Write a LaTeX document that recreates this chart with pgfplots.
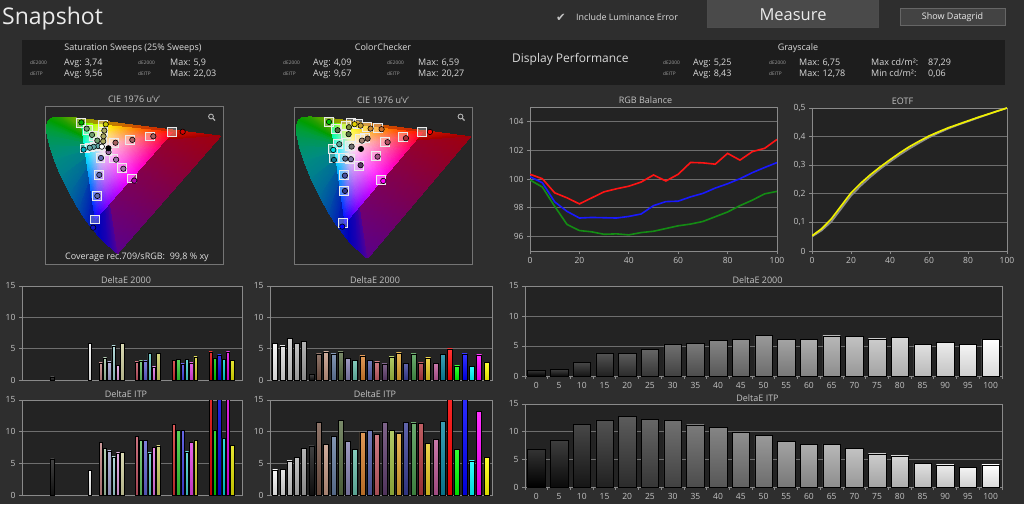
\documentclass[border=0pt]{standalone}
\usepackage{fontspec}
\setmainfont{Open Sans}
\newfontfamily\symfont{DejaVu Sans}
\usepackage{pgfplots}
\usepackage{pgfplotstable}
\pgfplotsset{compat=1.18}

% ---------- palette ----------
\definecolor{pagebg}{HTML}{2E2E2E}
\definecolor{panelbg}{HTML}{1D1D1D}
\definecolor{plotbg}{HTML}{232323}
\definecolor{ciebg}{HTML}{262626}
\definecolor{framec}{HTML}{8A8A8A}
\definecolor{gridc}{HTML}{6E6E6E}
\definecolor{labc}{HTML}{C4C4C4}
\definecolor{txtc}{HTML}{DADADA}
\definecolor{tinyc}{HTML}{A0A0A0}
\definecolor{btnbg}{HTML}{4A4A4A}
\definecolor{btn2bg}{HTML}{434343}
% saturation sweep bars
\definecolor{kk}{HTML}{151515}\definecolor{ww}{HTML}{F4F4F4}
\definecolor{sar}{HTML}{C08080}\definecolor{sag}{HTML}{A0C0A0}\definecolor{sab}{HTML}{A0A0D0}
\definecolor{sac}{HTML}{A0D0D0}\definecolor{sam}{HTML}{E0A0E0}\definecolor{say}{HTML}{D0D0A0}
\definecolor{sbr}{HTML}{C05060}\definecolor{sbg}{HTML}{60C060}\definecolor{sbb}{HTML}{6060D0}
\definecolor{sbc}{HTML}{60C8C8}\definecolor{sbm}{HTML}{E070E0}\definecolor{sby}{HTML}{C8C860}
\definecolor{scr}{HTML}{D03030}\definecolor{scg}{HTML}{30C830}\definecolor{scb}{HTML}{4040E0}
\definecolor{scc}{HTML}{40D0D0}\definecolor{scm}{HTML}{E040E0}\definecolor{scy}{HTML}{D8D030}
\definecolor{sdr}{HTML}{E00000}\definecolor{sdg}{HTML}{00D000}\definecolor{sdb}{HTML}{0000E0}
\definecolor{sdc}{HTML}{00D0D0}\definecolor{sdm}{HTML}{E000E0}\definecolor{sdy}{HTML}{E0E000}
% colorchecker patches
\definecolor{q1}{HTML}{F4F4F4}\definecolor{q2}{HTML}{DCDCDC}\definecolor{q3}{HTML}{C8C8C8}
\definecolor{q4}{HTML}{B4B4B4}\definecolor{q5}{HTML}{A0A0A0}\definecolor{q6}{HTML}{101010}
\definecolor{q7}{HTML}{735244}\definecolor{q8}{HTML}{C29682}\definecolor{q9}{HTML}{627A9D}
\definecolor{q10}{HTML}{576C43}\definecolor{q11}{HTML}{8580B1}\definecolor{q12}{HTML}{67BDAA}
\definecolor{q13}{HTML}{D67E2C}\definecolor{q14}{HTML}{505BA6}\definecolor{q15}{HTML}{C15A63}
\definecolor{q16}{HTML}{5E3C6C}\definecolor{q17}{HTML}{9DBC40}\definecolor{q18}{HTML}{E0A32E}
\definecolor{q19}{HTML}{383D96}\definecolor{q20}{HTML}{469449}\definecolor{q21}{HTML}{AF363C}
\definecolor{q22}{HTML}{E7C71F}\definecolor{q23}{HTML}{BB5695}\definecolor{q24}{HTML}{0885A1}
\definecolor{q25}{HTML}{FF0000}\definecolor{q26}{HTML}{00FF00}\definecolor{q27}{HTML}{0000FF}
\definecolor{q28}{HTML}{00FFFF}\definecolor{q29}{HTML}{FF00FF}\definecolor{q30}{HTML}{FFFF00}

\newcommand{\fs}[1]{\fontsize{#1}{#1}\selectfont}

\pgfplotsset{
  dash/.style={
    scale only axis, anchor=north west,
    axis background/.style={fill=plotbg},
    axis line style={draw=framec, line width=0.9pt},
    tick align=outside, tick pos=left,
    major tick length=3pt, minor tick length=3pt,
    every tick/.style={draw=framec, line width=0.8pt},
    ticklabel style={text=labc, font=\fs{8.5}},
    every axis title/.style={at={(0.5,1)}, anchor=base, yshift=3pt, text=labc, font=\fs{9}, inner sep=0pt},
    ymajorgrids, grid style={draw=gridc, line width=0.8pt},
    /pgf/number format/assume math mode=true,
  },
  cie/.style={dash, xtick=\empty, ytick=\empty, ymajorgrids=false,
    axis background/.style={fill=ciebg},
    axis line style={draw=framec!85!black, line width=0.9pt}},
  cb/.style={ybar, bar shift=0pt, draw=black, line width=0.5pt,
    top color=#1!80!white, bottom color=#1!85!black},
  gb/.style={cb=white!#1!black},
  graycats/.style={
    xmin=-0.5, xmax=20.5, ymin=0, ymax=15, ytick={0,5,10,15}, bar width=17.5pt,
    xtick={-0.5,0.5,...,20.5}, xticklabels={},
    extra x ticks={0,1,...,20},
    extra x tick labels={0,5,10,15,20,25,30,35,40,45,50,55,60,65,70,75,80,85,90,95,100},
    extra x tick style={major tick length=0pt, xticklabel style={yshift=-2.5pt}}},
  sq/.style={only marks, mark=square*, mark size=4.4pt,
    mark options={draw=white!92!black, line width=0.8pt, fill=white, fill opacity=0.28}},
  circ/.style={only marks, mark=*, mark size=2.7pt,
    mark options={draw=black, line width=0.6pt, fill={#1}}},
}

% ---------- data ----------
\pgfplotstableread{
x   r      g      b
0   100.33 99.93  100.16
5   100.02 99.44  99.74
10  99.04  98.10  98.41
15  98.69  96.84  97.75
20  98.27  96.42  97.29
25  98.69  96.33  97.33
30  99.11  96.16  97.31
35  99.32  96.19  97.29
40  99.50  96.12  97.40
45  99.79  96.28  97.57
50  100.28 96.37  98.15
55  99.86  96.56  98.43
60  100.33 96.75  98.46
65  101.15 96.87  98.76
70  101.12 97.05  99.00
75  101.03 97.38  99.37
80  101.78 97.71  99.67
85  101.31 98.15  100.02
90  101.90 98.53  100.44
95  102.13 98.97  100.80
100 102.75 99.14  101.14
}\rgbbal

\pgfplotstableread{
x   meas  ref
0   0.053 0.050
5   0.078 0.072
10  0.113 0.103
15  0.158 0.148
20  0.203 0.193
25  0.237 0.228
30  0.267 0.259
35  0.294 0.287
40  0.319 0.312
45  0.343 0.336
50  0.365 0.358
55  0.384 0.378
60  0.402 0.397
65  0.417 0.413
70  0.431 0.428
75  0.443 0.441
80  0.455 0.453
85  0.467 0.465
90  0.478 0.477
95  0.489 0.489
100 0.500 0.500
}\eotf

% spectral locus fan (u', v', vertex colour), one triangle per three rows
\pgfplotstableread{
x y c
0.1978 0.4683 rgb=0.35,0,0.55
0.2568 0.0166 rgb=0.35,0,0.55
0.2522 0.0169 rgb=0.3,0,0.6
0.1978 0.4683 rgb=0.3,0,0.6
0.2522 0.0169 rgb=0.3,0,0.6
0.2347 0.0350 rgb=0.2,0,0.65
0.1978 0.4683 rgb=0.2,0,0.65
0.2347 0.0350 rgb=0.2,0,0.65
0.2161 0.0549 rgb=0.1,0,0.7
0.1978 0.4683 rgb=0.1,0,0.7
0.2161 0.0549 rgb=0.1,0,0.7
0.1877 0.0871 rgb=0,0,0.72
0.1978 0.4683 rgb=0,0,0.72
0.1877 0.0871 rgb=0,0,0.72
0.1441 0.1510 rgb=0,0.15,0.7
0.1978 0.4683 rgb=0,0.15,0.7
0.1441 0.1510 rgb=0,0.15,0.7
0.1147 0.2044 rgb=0,0.3,0.65
0.1978 0.4683 rgb=0,0.3,0.65
0.1147 0.2044 rgb=0,0.3,0.65
0.0828 0.2708 rgb=0,0.42,0.6
0.1978 0.4683 rgb=0,0.42,0.6
0.0828 0.2708 rgb=0,0.42,0.6
0.0521 0.3427 rgb=0,0.5,0.55
0.1978 0.4683 rgb=0,0.5,0.55
0.0521 0.3427 rgb=0,0.5,0.55
0.0282 0.4117 rgb=0,0.55,0.5
0.1978 0.4683 rgb=0,0.55,0.5
0.0282 0.4117 rgb=0,0.55,0.5
0.0119 0.4698 rgb=0,0.58,0.4
0.1978 0.4683 rgb=0,0.58,0.4
0.0119 0.4698 rgb=0,0.58,0.4
0.0035 0.5131 rgb=0,0.6,0.3
0.1978 0.4683 rgb=0,0.6,0.3
0.0035 0.5131 rgb=0,0.6,0.3
0.0014 0.5432 rgb=0,0.62,0.2
0.1978 0.4683 rgb=0,0.62,0.2
0.0014 0.5432 rgb=0,0.62,0.2
0.0046 0.5638 rgb=0,0.62,0.1
0.1978 0.4683 rgb=0,0.62,0.1
0.0046 0.5638 rgb=0,0.62,0.1
0.0123 0.5770 rgb=0,0.62,0
0.1978 0.4683 rgb=0,0.62,0
0.0123 0.5770 rgb=0,0.62,0
0.0231 0.5837 rgb=0.05,0.62,0
0.1978 0.4683 rgb=0.05,0.62,0
0.0231 0.5837 rgb=0.05,0.62,0
0.0360 0.5861 rgb=0.1,0.62,0
0.1978 0.4683 rgb=0.1,0.62,0
0.0360 0.5861 rgb=0.1,0.62,0
0.0501 0.5868 rgb=0.15,0.62,0
0.1978 0.4683 rgb=0.15,0.62,0
0.0501 0.5868 rgb=0.15,0.62,0
0.0792 0.5856 rgb=0.3,0.65,0
0.1978 0.4683 rgb=0.3,0.65,0
0.0792 0.5856 rgb=0.3,0.65,0
0.1127 0.5821 rgb=0.45,0.65,0
0.1978 0.4683 rgb=0.45,0.65,0
0.1127 0.5821 rgb=0.45,0.65,0
0.1531 0.5766 rgb=0.6,0.62,0
0.1978 0.4683 rgb=0.6,0.62,0
0.1531 0.5766 rgb=0.6,0.62,0
0.2026 0.5694 rgb=0.72,0.55,0
0.1978 0.4683 rgb=0.72,0.55,0
0.2026 0.5694 rgb=0.72,0.55,0
0.2623 0.5604 rgb=0.78,0.45,0
0.1978 0.4683 rgb=0.78,0.45,0
0.2623 0.5604 rgb=0.78,0.45,0
0.3315 0.5501 rgb=0.8,0.3,0
0.1978 0.4683 rgb=0.8,0.3,0
0.3315 0.5501 rgb=0.8,0.3,0
0.4035 0.5393 rgb=0.8,0.18,0
0.1978 0.4683 rgb=0.8,0.18,0
0.4035 0.5393 rgb=0.8,0.18,0
0.5203 0.5219 rgb=0.75,0.05,0
0.1978 0.4683 rgb=0.75,0.05,0
0.5203 0.5219 rgb=0.75,0.05,0
0.5830 0.5125 rgb=0.68,0,0
0.1978 0.4683 rgb=0.68,0,0
0.5830 0.5125 rgb=0.68,0,0
0.6234 0.5065 rgb=0.62,0,0
0.1978 0.4683 rgb=0.55,0,0.3
0.6234 0.5065 rgb=0.62,0,0.05
0.2568 0.0166 rgb=0.35,0,0.55
}\cieouter

% rec.709 gamut fan around D65
\pgfplotstableread{
x y c
0.1978 0.4683 rgb=1,0.93,0.95
0.4508 0.5229 rgb=1,0,0
0.3201 0.5388 rgb=1,0.5,0
0.1978 0.4683 rgb=1,0.93,0.95
0.3201 0.5388 rgb=1,0.5,0
0.2039 0.5529 rgb=1,1,0
0.1978 0.4683 rgb=1,0.93,0.95
0.2039 0.5529 rgb=1,1,0
0.1459 0.5600 rgb=0.5,1,0
0.1978 0.4683 rgb=1,0.93,0.95
0.1459 0.5600 rgb=0.5,1,0
0.1250 0.5625 rgb=0,1,0
0.1978 0.4683 rgb=1,0.93,0.95
0.1250 0.5625 rgb=0,1,0
0.1286 0.5336 rgb=0,1,0.5
0.1978 0.4683 rgb=1,0.93,0.95
0.1286 0.5336 rgb=0,1,0.5
0.1383 0.4555 rgb=0,1,1
0.1978 0.4683 rgb=1,0.93,0.95
0.1383 0.4555 rgb=0,1,1
0.1566 0.3089 rgb=0,0.5,1
0.1978 0.4683 rgb=1,0.93,0.95
0.1566 0.3089 rgb=0,0.5,1
0.1755 0.1579 rgb=0,0,1
0.1978 0.4683 rgb=1,0.93,0.95
0.1755 0.1579 rgb=0,0,1
0.2195 0.2163 rgb=0.5,0,1
0.1978 0.4683 rgb=1,0.93,0.95
0.2195 0.2163 rgb=0.5,0,1
0.3051 0.3297 rgb=1,0,1
0.1978 0.4683 rgb=1,0.93,0.95
0.3051 0.3297 rgb=1,0,1
0.3973 0.4521 rgb=1,0,0.5
0.1978 0.4683 rgb=1,0.93,0.95
0.3973 0.4521 rgb=1,0,0.5
0.4508 0.5229 rgb=1,0,0
}\cieinner

\begin{document}
\begin{tikzpicture}[x=1pt,y=1pt]
\useasboundingbox (0,0) rectangle (1024,504);
\fill[pagebg] (0,0) rectangle (1024,504);

% ---------- header ----------
\node[anchor=base west, inner sep=0pt, text=white!92!black, font=\fs{23}] at (2,479) {Snapshot};
\node[anchor=base, inner sep=0pt, text=labc, font=\symfont\fs{11.5}] at (561,482.5) {✔};
\node[anchor=base west, inner sep=0pt, text=txtc, font=\fs{8.9}] at (576,483.5) {Include Luminance Error};
\filldraw[fill=btnbg, draw=black!70, line width=1pt] (707.5,504) rectangle (878,476.5);
\node[anchor=base, inner sep=0pt, text=white!92!black, font=\fs{16.5}] at (793,483.5) {Measure};
\filldraw[fill=btn2bg, draw=white!40!black, line width=0.8pt] (900,496) rectangle (1005,479);
\node[anchor=base, inner sep=0pt, text=white!92!black, font=\fs{9}] at (952.5,484.5) {Show Datagrid};

% ---------- summary panel ----------
\fill[panelbg] (22,464) rectangle (1005,419);
\begin{scope}[every node/.style={anchor=base west, inner sep=0pt, text=txtc, font=\fs{9}}]
\node[anchor=base] at (133,453) {Saturation Sweeps (25\% Sweeps)};
\node at (64,438.5) {Avg: 3,74};  \node at (170,438.5) {Max: 5,9};
\node at (64,427.5) {Avg: 9,56};  \node at (170,427.5) {Max: 22,03};
\node[anchor=base] at (383,453) {ColorChecker};
\node at (313,438.5) {Avg: 4,09}; \node at (418,438.5) {Max: 6,59};
\node at (313,427.5) {Avg: 9,67}; \node at (418,427.5) {Max: 20,27};
\node[font=\fs{12}] at (512,441.5) {Display Performance};
\node[anchor=base] at (798,453) {Grayscale};
\node at (693,438.5) {Avg: 5,25}; \node at (799,438.5) {Max: 6,75};
\node at (693,427.5) {Avg: 8,43}; \node at (799,427.5) {Max: 12,78};
\node at (871,438.5) {Max cd/m²:}; \node at (928,438.5) {87,29};
\node at (871,427.5) {Min cd/m²:}; \node at (928,427.5) {0,06};
\end{scope}
\begin{scope}[every node/.style={anchor=base west, inner sep=0pt, text=tinyc, font=\fs{4.8}}]
\foreach \x in {30,138,283,387,663,769} {\node at (\x,439.5) {dE2000};}
\foreach \x in {30,138,283,387,663,769} {\node at (\x,428.5) {dEITP};}
\end{scope}

% ---------- CIE 1976 u'v' : saturation sweeps ----------
\begin{axis}[cie, at={(45pt,398pt)}, width=178pt, height=158pt,
  xmin=-0.004, xmax=0.632, ymin=-0.0295, ymax=0.633, title={CIE 1976 u'v'}]
\addplot[patch, patch type=triangle, shader=interp, mesh/color input=explicit] table[x=x, y=y, meta=c] {\cieouter};
\addplot[patch, patch type=triangle, shader=interp, mesh/color input=explicit] table[x=x, y=y, meta=c] {\cieinner};
\addplot[sq] coordinates {
 (0.2408,0.4776) (0.2990,0.4901) (0.3698,0.5054) (0.4508,0.5229)
 (0.1854,0.4843) (0.1687,0.5060) (0.1483,0.5324) (0.1250,0.5625)
 (0.1940,0.4155) (0.1889,0.3441) (0.1826,0.2572) (0.1755,0.1579)
 (0.1877,0.4661) (0.1740,0.4632) (0.1573,0.4596) (0.1383,0.4555)
 (0.2160,0.4447) (0.2407,0.4129) (0.2708,0.3741) (0.3051,0.3297)
 (0.1988,0.4827) (0.2002,0.5021) (0.2019,0.5258) (0.2039,0.5529)
 (0.1978,0.4683)};
\addplot[circ={rgb,255:red,168;green,96;blue,96}] coordinates {(0.2480,0.4790) (0.3080,0.4910) (0.3830,0.5060)};
\addplot[circ={rgb,255:red,208;green,0;blue,0}] coordinates {(0.4880,0.5250)};
\addplot[circ={rgb,255:red,112;green,160;blue,112}] coordinates {(0.1830,0.4880) (0.1640,0.5120) (0.1450,0.5380)};
\addplot[circ={rgb,255:red,0;green,176;blue,0}] coordinates {(0.1260,0.5640)};
\addplot[circ={rgb,255:red,96;green,104;blue,176}] coordinates {(0.1960,0.4150) (0.1900,0.3440) (0.1830,0.2560)};
\addplot[circ={rgb,255:red,16;green,16;blue,192}] coordinates {(0.1680,0.1230)};
\addplot[circ={rgb,255:red,96;green,168;blue,168}] coordinates {(0.1860,0.4650) (0.1700,0.4620) (0.1560,0.4580)};
\addplot[circ={rgb,255:red,0;green,176;blue,192}] coordinates {(0.1340,0.4500)};
\addplot[circ={rgb,255:red,160;green,112;blue,168}] coordinates {(0.2230,0.4400) (0.2500,0.4080) (0.2760,0.3700)};
\addplot[circ={rgb,255:red,176;green,0;blue,176}] coordinates {(0.3150,0.3200)};
\addplot[circ={rgb,255:red,168;green,168;blue,96}] coordinates {(0.2040,0.4850) (0.2050,0.5060) (0.2080,0.5300)};
\addplot[circ={rgb,255:red,200;green,200;blue,0}] coordinates {(0.2130,0.5560)};
\addplot[circ=white] coordinates {(0.1990,0.4625)};
\addplot[circ=black] coordinates {(0.2226,0.4557)};
\end{axis}
\node[anchor=base, inner sep=0pt, text=white!88!black, font=\fs{9}] at (137,245) {Coverage rec.709/sRGB:\ \ 99,8 \% xy};

% ---------- CIE 1976 u'v' : ColorChecker ----------
\begin{axis}[cie, at={(294pt,397pt)}, width=178pt, height=157pt,
  xmin=-0.007, xmax=0.629, ymin=-0.0077, ymax=0.627, title={CIE 1976 u'v'}]
\addplot[patch, patch type=triangle, shader=interp, mesh/color input=explicit] table[x=x, y=y, meta=c] {\cieouter};
\addplot[patch, patch type=triangle, shader=interp, mesh/color input=explicit] table[x=x, y=y, meta=c] {\cieinner};
\addplot[sq] coordinates {
 (0.1179,0.5668) (0.1429,0.5372) (0.1774,0.5518) (0.1976,0.5615) (0.2226,0.5575)
 (0.2524,0.5478) (0.2940,0.5413) (0.1786,0.5182) (0.2286,0.4968) (0.2464,0.5008)
 (0.3179,0.4859) (0.3810,0.5049) (0.4488,0.5263) (0.1500,0.4790) (0.1310,0.4563)
 (0.1929,0.4697) (0.1369,0.4199) (0.1714,0.4224) (0.1929,0.4159) (0.2857,0.4292)
 (0.2262,0.3888) (0.1714,0.3524) (0.3024,0.3322) (0.1714,0.2889) (0.1690,0.1570)};
\addplot[circ={rgb,255:red,0;green,192;blue,0}]    coordinates {(0.1179,0.5668)};
\addplot[circ={rgb,255:red,78;green,110;blue,62}]  coordinates {(0.1488,0.5332)};
\addplot[circ={rgb,255:red,122;green,138;blue,58}] coordinates {(0.1893,0.5453)};
\addplot[circ={rgb,255:red,224;green,208;blue,0}]  coordinates {(0.2095,0.5575)};
\addplot[circ={rgb,255:red,200;green,160;blue,48}] coordinates {(0.2310,0.5518)};
\addplot[circ={rgb,255:red,208;green,138;blue,48}] coordinates {(0.2667,0.5397)};
\addplot[circ={rgb,255:red,200;green,112;blue,48}] coordinates {(0.3060,0.5372)};
\addplot[circ={rgb,255:red,90;green,122;blue,64}]  coordinates {(0.1881,0.5170)};
\addplot[circ={rgb,255:red,160;green,128;blue,112}] coordinates {(0.2357,0.4911)};
\addplot[circ={rgb,255:red,122;green,88;blue,72}]  coordinates {(0.2560,0.4992)};
\addplot[circ={rgb,255:red,176;green,80;blue,96}]  coordinates {(0.3275,0.4847)};
\addplot[circ={rgb,255:red,168;green,48;blue,56}]  coordinates {(0.3929,0.5008)};
\addplot[circ={rgb,255:red,255;green,0;blue,0}]    coordinates {(0.4786,0.5263)};
\addplot[circ={rgb,255:red,96;green,168;blue,152}] coordinates {(0.1548,0.4766)};
\addplot[circ={rgb,255:red,0;green,224;blue,224}]  coordinates {(0.1333,0.4535)};
\addplot[circ={rgb,255:red,112;green,112;blue,112}] coordinates {(0.1988,0.4669)};
\addplot[circ=black]                               coordinates {(0.2321,0.4576)};
\addplot[circ={rgb,255:red,10;green,120;blue,144}] coordinates {(0.1357,0.4131)};
\addplot[circ={rgb,255:red,90;green,110;blue,144}] coordinates {(0.1762,0.4183)};
\addplot[circ={rgb,255:red,122;green,120;blue,168}] coordinates {(0.1964,0.4159)};
\addplot[circ={rgb,255:red,168;green,80;blue,136}] coordinates {(0.2917,0.4264)};
\addplot[circ={rgb,255:red,90;green,58;blue,104}]  coordinates {(0.2310,0.3916)};
\addplot[circ={rgb,255:red,72;green,80;blue,160}]  coordinates {(0.1750,0.3496)};
\addplot[circ={rgb,255:red,255;green,0;blue,255}]  coordinates {(0.3119,0.3281)};
\addplot[circ={rgb,255:red,48;green,56;blue,144}]  coordinates {(0.1750,0.2877)};
\addplot[circ={rgb,255:red,0;green,0;blue,255}]    coordinates {(0.1655,0.1433)};
\end{axis}

% magnifier glyphs in the corners of the two diagrams
\foreach \mx in {211,460.5} {
  \draw[white!70!black, line width=0.9pt] (\mx,387.5) circle (2.4);
  \draw[white!70!black, line width=1.1pt] (\mx+1.8,385.7) -- (\mx+4,383.5);
}

% ---------- RGB Balance ----------
\begin{axis}[dash, at={(530pt,397pt)}, width=247pt, height=144pt,
  xmin=0, xmax=100, ymin=95, ymax=105, xtick={0,20,...,100}, ytick={96,98,...,104},
  title={RGB Balance}, title style={xshift=-8pt}]
\addplot[draw={rgb,255:red,255;green,20;blue,20}, line width=1.6pt] table[x=x, y=r] {\rgbbal};
\addplot[draw={rgb,255:red,20;green,140;blue,20}, line width=1.6pt] table[x=x, y=g] {\rgbbal};
\addplot[draw={rgb,255:red,25;green,25;blue,255}, line width=1.6pt] table[x=x, y=b] {\rgbbal};
\end{axis}

% ---------- EOTF ----------
\begin{axis}[dash, at={(812pt,396pt)}, width=195pt, height=143pt,
  xmin=0, xmax=100, ymin=0, ymax=0.5, xtick={0,20,...,100}, ytick={0,0.1,0.2,0.3,0.4,0.5},
  yticklabel style={/pgf/number format/.cd, fixed, precision=1, use comma},
  title={EOTF}, title style={xshift=-7pt}]
\addplot[draw=white!55!black, line width=1.6pt] table[x=x, y=ref] {\eotf};
\addplot[draw={rgb,255:red,240;green,240;blue,0}, line width=1.7pt] table[x=x, y=meas] {\eotf};
\end{axis}

% ---------- DeltaE 2000 : saturation sweeps ----------
\begin{axis}[dash, at={(22pt,218pt)}, width=220pt, height=94pt,
  xmin=22, xmax=242, ymin=0, ymax=15, ytick={0,5,10,15}, xtick=\empty, bar width=3.3pt,
  title={DeltaE 2000}, title style={xshift=-6pt}]
\addplot[cb=kk]  coordinates {(52.3,0.50)};
\addplot[cb=ww]  coordinates {(90.0,5.80)};
\addplot[cb=sar] coordinates {(100.7,2.75)}; \addplot[cb=sag] coordinates {(105.0,3.54)};
\addplot[cb=sab] coordinates {(109.3,2.90)}; \addplot[cb=sac] coordinates {(113.6,5.44)};
\addplot[cb=sam] coordinates {(117.9,2.38)}; \addplot[cb=say] coordinates {(122.2,5.90)};
\addplot[cb=sbr] coordinates {(136.7,2.90)}; \addplot[cb=sbg] coordinates {(141.0,3.06)};
\addplot[cb=sbb] coordinates {(145.3,3.06)}; \addplot[cb=sbc] coordinates {(149.6,4.23)};
\addplot[cb=sbm] coordinates {(153.9,2.11)}; \addplot[cb=sby] coordinates {(158.2,4.23)};
\addplot[cb=scr] coordinates {(174.0,3.17)}; \addplot[cb=scg] coordinates {(178.3,3.28)};
\addplot[cb=scb] coordinates {(182.6,2.59)}; \addplot[cb=scc] coordinates {(186.9,3.28)};
\addplot[cb=scm] coordinates {(191.2,2.75)}; \addplot[cb=scy] coordinates {(195.5,3.70)};
\addplot[cb=sdr] coordinates {(210.7,4.49)}; \addplot[cb=sdg] coordinates {(215.0,3.49)};
\addplot[cb=sdb] coordinates {(219.3,4.01)}; \addplot[cb=sdc] coordinates {(223.6,3.28)};
\addplot[cb=sdm] coordinates {(227.9,4.49)}; \addplot[cb=sdy] coordinates {(232.2,3.17)};
\end{axis}

% ---------- DeltaE ITP : saturation sweeps ----------
\begin{axis}[dash, at={(22pt,104pt)}, width=220pt, height=95pt,
  xmin=22, xmax=242, ymin=0, ymax=15, ytick={0,5,10,15}, xtick=\empty, bar width=3.3pt,
  title={DeltaE ITP}, title style={xshift=-6pt}]
\addplot[cb=kk]  coordinates {(52.3,5.70)};
\addplot[cb=ww]  coordinates {(90.0,3.87)};
\addplot[cb=sar] coordinates {(100.7,8.36)}; \addplot[cb=sag] coordinates {(105.0,7.32)};
\addplot[cb=sab] coordinates {(109.3,6.95)}; \addplot[cb=sac] coordinates {(113.6,6.01)};
\addplot[cb=sam] coordinates {(117.9,6.64)}; \addplot[cb=say] coordinates {(122.2,6.69)};
\addplot[cb=sbr] coordinates {(136.7,9.30)}; \addplot[cb=sbg] coordinates {(141.0,8.68)};
\addplot[cb=sbb] coordinates {(145.3,8.68)}; \addplot[cb=sbc] coordinates {(149.6,6.64)};
\addplot[cb=sbm] coordinates {(153.9,7.47)}; \addplot[cb=sby] coordinates {(158.2,7.74)};
\addplot[cb=scr] coordinates {(174.0,11.19)}; \addplot[cb=scg] coordinates {(178.3,10.25)};
\addplot[cb=scb] coordinates {(182.6,10.25)}; \addplot[cb=scc] coordinates {(186.9,6.80)};
\addplot[cb=scm] coordinates {(191.2,8.31)}; \addplot[cb=scy] coordinates {(195.5,8.57)};
\addplot[cb=sdr] coordinates {(210.7,18.50)}; \addplot[cb=sdg] coordinates {(215.0,10.25)};
\addplot[cb=sdb] coordinates {(219.3,20.00)}; \addplot[cb=sdc] coordinates {(223.6,8.99)};
\addplot[cb=sdm] coordinates {(227.9,22.03)}; \addplot[cb=sdy] coordinates {(232.2,7.89)};
\end{axis}

% ---------- DeltaE 2000 : ColorChecker ----------
\begin{axis}[dash, at={(270pt,218pt)}, width=222pt, height=94pt,
  xmin=0.31, xmax=30.77, ymin=0, ymax=15, ytick={0,5,10,15}, xtick=\empty, bar width=5pt,
  title={DeltaE 2000}, title style={xshift=-6pt}]
\addplot[cb=q1] coordinates {(1,5.81)};  \addplot[cb=q2] coordinates {(2,5.44)};
\addplot[cb=q3] coordinates {(3,6.59)};  \addplot[cb=q4] coordinates {(4,5.81)};
\addplot[cb=q5] coordinates {(5,6.13)};  \addplot[cb=q6] coordinates {(6,0.85)};
\addplot[cb=q7] coordinates {(7,4.17)};  \addplot[cb=q8] coordinates {(8,4.49)};
\addplot[cb=q9] coordinates {(9,4.17)};  \addplot[cb=q10] coordinates {(10,4.49)};
\addplot[cb=q11] coordinates {(11,3.49)}; \addplot[cb=q12] coordinates {(12,3.17)};
\addplot[cb=q13] coordinates {(13,3.86)}; \addplot[cb=q14] coordinates {(14,3.17)};
\addplot[cb=q15] coordinates {(15,2.90)}; \addplot[cb=q16] coordinates {(16,2.59)};
\addplot[cb=q17] coordinates {(17,3.70)}; \addplot[cb=q18] coordinates {(18,4.33)};
\addplot[cb=q19] coordinates {(19,2.64)}; \addplot[cb=q20] coordinates {(20,4.17)};
\addplot[cb=q21] coordinates {(21,2.75)}; \addplot[cb=q22] coordinates {(22,3.54)};
\addplot[cb=q23] coordinates {(23,2.64)}; \addplot[cb=q24] coordinates {(24,4.12)};
\addplot[cb=q25] coordinates {(25,4.97)}; \addplot[cb=q26] coordinates {(26,2.27)};
\addplot[cb=q27] coordinates {(27,4.17)}; \addplot[cb=q28] coordinates {(28,2.17)};
\addplot[cb=q29] coordinates {(29,4.01)}; \addplot[cb=q30] coordinates {(30,2.80)};
\end{axis}

% ---------- DeltaE ITP : ColorChecker ----------
\begin{axis}[dash, at={(270pt,104pt)}, width=222pt, height=95pt,
  xmin=0.31, xmax=30.77, ymin=0, ymax=15, ytick={0,5,10,15}, xtick=\empty, bar width=5pt,
  title={DeltaE ITP}, title style={xshift=-6pt}]
\addplot[cb=q1] coordinates {(1,3.95)};  \addplot[cb=q2] coordinates {(2,4.00)};
\addplot[cb=q3] coordinates {(3,5.37)};  \addplot[cb=q4] coordinates {(4,6.00)};
\addplot[cb=q5] coordinates {(5,7.42)};  \addplot[cb=q6] coordinates {(6,7.74)};
\addplot[cb=q7] coordinates {(7,11.47)}; \addplot[cb=q8] coordinates {(8,7.95)};
\addplot[cb=q9] coordinates {(9,9.26)};  \addplot[cb=q10] coordinates {(10,11.79)};
\addplot[cb=q11] coordinates {(11,8.42)}; \addplot[cb=q12] coordinates {(12,7.21)};
\addplot[cb=q13] coordinates {(13,9.84)}; \addplot[cb=q14] coordinates {(14,10.26)};
\addplot[cb=q15] coordinates {(15,9.53)}; \addplot[cb=q16] coordinates {(16,11.47)};
\addplot[cb=q17] coordinates {(17,10.26)}; \addplot[cb=q18] coordinates {(18,9.68)};
\addplot[cb=q19] coordinates {(19,11.47)}; \addplot[cb=q20] coordinates {(20,11.37)};
\addplot[cb=q21] coordinates {(21,11.26)}; \addplot[cb=q22] coordinates {(22,8.21)};
\addplot[cb=q23] coordinates {(23,8.74)}; \addplot[cb=q24] coordinates {(24,11.63)};
\addplot[cb=q25] coordinates {(25,20.27)}; \addplot[cb=q26] coordinates {(26,7.26)};
\addplot[cb=q27] coordinates {(27,17.50)}; \addplot[cb=q28] coordinates {(28,5.37)};
\addplot[cb=q29] coordinates {(29,13.26)}; \addplot[cb=q30] coordinates {(30,6.00)};
\end{axis}

% ---------- DeltaE 2000 : grayscale ----------
\begin{axis}[dash, graycats, at={(525pt,218pt)}, width=477pt, height=90pt,
  title={DeltaE 2000}, title style={xshift=-6pt}]
\addplot[gb=0]   coordinates {(0,0.89)};  \addplot[gb=5]   coordinates {(1,1.06)};
\addplot[gb=10]  coordinates {(2,2.28)};  \addplot[gb=15]  coordinates {(3,3.72)};
\addplot[gb=20]  coordinates {(4,3.83)};  \addplot[gb=25]  coordinates {(5,4.50)};
\addplot[gb=30]  coordinates {(6,5.33)};  \addplot[gb=35]  coordinates {(7,5.50)};
\addplot[gb=40]  coordinates {(8,5.89)};  \addplot[gb=45]  coordinates {(9,6.06)};
\addplot[gb=50]  coordinates {(10,6.75)}; \addplot[gb=55]  coordinates {(11,6.06)};
\addplot[gb=60]  coordinates {(12,6.06)}; \addplot[gb=65]  coordinates {(13,6.70)};
\addplot[gb=70]  coordinates {(14,6.61)}; \addplot[gb=75]  coordinates {(15,6.17)};
\addplot[gb=80]  coordinates {(16,6.44)}; \addplot[gb=85]  coordinates {(17,5.33)};
\addplot[gb=90]  coordinates {(18,5.56)}; \addplot[gb=95]  coordinates {(19,5.33)};
\addplot[gb=100] coordinates {(20,6.06)};
\end{axis}

% ---------- DeltaE ITP : grayscale ----------
\begin{axis}[dash, graycats, at={(525pt,100pt)}, width=477pt, height=83pt,
  title={DeltaE ITP}, title style={xshift=-6pt}]
\addplot[gb=0]   coordinates {(0,6.78)};   \addplot[gb=5]   coordinates {(1,8.41)};
\addplot[gb=10]  coordinates {(2,11.37)};  \addplot[gb=15]  coordinates {(3,11.98)};
\addplot[gb=20]  coordinates {(4,12.78)};  \addplot[gb=25]  coordinates {(5,12.16)};
\addplot[gb=30]  coordinates {(6,11.98)};  \addplot[gb=35]  coordinates {(7,11.25)};
\addplot[gb=40]  coordinates {(8,10.77)};  \addplot[gb=45]  coordinates {(9,9.86)};
\addplot[gb=50]  coordinates {(10,9.32)};  \addplot[gb=55]  coordinates {(11,8.29)};
\addplot[gb=60]  coordinates {(12,7.68)};  \addplot[gb=65]  coordinates {(13,7.68)};
\addplot[gb=70]  coordinates {(14,6.96)};  \addplot[gb=75]  coordinates {(15,5.99)};
\addplot[gb=80]  coordinates {(16,5.63)};  \addplot[gb=85]  coordinates {(17,4.30)};
\addplot[gb=90]  coordinates {(18,3.99)};  \addplot[gb=95]  coordinates {(19,3.57)};
\addplot[gb=100] coordinates {(20,3.99)};
\end{axis}
\end{tikzpicture}
\end{document}
